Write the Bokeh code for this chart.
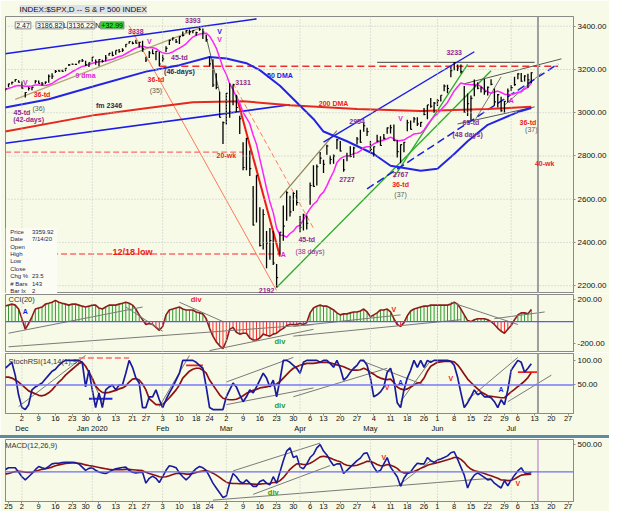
from bokeh.plotting import figure
from bokeh.models import (Range1d, FixedTicker, Label, Span, ColumnDataSource, BoxAnnotation,
                          Spacer, LinearAxis, NumeralTickFormatter)
from bokeh.layouts import column
from bokeh.embed import file_html
from bokeh.resources import INLINE

# ---------------------------------------------------------------- data
TRADING_DAYS = [
    (2019, 11, [22, 25, 26, 27, 29]),
    (2019, 12, [2, 3, 4, 5, 6, 9, 10, 11, 12, 13, 16, 17, 18, 19, 20, 23, 24, 26, 27, 30, 31]),
    (2020, 1, [2, 3, 6, 7, 8, 9, 10, 13, 14, 15, 16, 17, 21, 22, 23, 24, 27, 28, 29, 30, 31]),
    (2020, 2, [3, 4, 5, 6, 7, 10, 11, 12, 13, 14, 18, 19, 20, 21, 24, 25, 26, 27, 28]),
    (2020, 3, [2, 3, 4, 5, 6, 9, 10, 11, 12, 13, 16, 17, 18, 19, 20, 23, 24, 25, 26, 27, 30, 31]),
    (2020, 4, [1, 2, 3, 6, 7, 8, 9, 13, 14, 15, 16, 17, 20, 21, 22, 23, 24, 27, 28, 29, 30]),
    (2020, 5, [1, 4, 5, 6, 7, 8, 11, 12, 13, 14, 15, 18, 19, 20, 21, 22, 26, 27, 28, 29]),
    (2020, 6, [1, 2, 3, 4, 5, 8, 9, 10, 11, 12, 15, 16, 17, 18, 19, 22, 23, 24, 25, 26, 29, 30]),
    (2020, 7, [1, 2, 6, 7, 8, 9, 10]),
]
FUTURE_DAYS = [(2020, 7, [13, 14, 15, 16, 17, 20, 21, 22, 23, 24, 27, 28, 29, 30, 31])]

HIGH = [3112.87, 3133.83, 3142.69, 3154.26, 3150.30,
        3144.31, 3094.97, 3119.38, 3119.45, 3150.60, 3148.87, 3142.12, 3143.98, 3176.28, 3182.68, 3197.71,
        3198.22, 3198.48, 3205.48, 3225.65, 3227.78, 3226.43, 3240.08, 3247.93, 3240.92, 3231.72,
        3258.14, 3246.15, 3246.84, 3244.91, 3267.07, 3275.58, 3282.99, 3288.13, 3294.25, 3298.66, 3317.11,
        3329.88, 3329.79, 3337.77, 3326.88, 3333.18, 3258.85, 3285.78, 3293.47, 3285.91, 3282.33,
        3268.44, 3306.92, 3337.58, 3347.96, 3341.42, 3352.26, 3375.63, 3381.47, 3385.09, 3380.69, 3375.01,
        3393.52, 3389.15, 3360.76, 3259.81, 3246.99, 3182.51, 3097.07, 2959.72,
        3090.96, 3136.72, 3130.97, 3083.04, 2985.93, 2863.89, 2882.59, 2825.60, 2660.95, 2711.33, 2562.98,
        2553.93, 2453.57, 2466.97, 2453.01, 2300.73, 2449.71, 2571.42, 2637.01, 2615.91, 2631.80, 2641.39,
        2522.75, 2533.22, 2524.42, 2676.85, 2756.89, 2760.75, 2818.57, 2782.46, 2851.85, 2801.88, 2806.51,
        2879.22, 2868.98, 2785.54, 2815.10, 2844.90, 2842.71, 2887.72, 2921.40, 2954.86, 2930.91,
        2869.09, 2844.24, 2898.23, 2891.11, 2901.92, 2932.16, 2944.25, 2945.82, 2874.68, 2852.80, 2865.01,
        2968.09, 2964.21, 2980.29, 2978.50, 2956.76, 3021.72, 3036.25, 3068.67, 3049.17,
        3062.18, 3081.07, 3130.94, 3128.91, 3211.72, 3233.13, 3222.71, 3223.27, 3123.53, 3088.42, 3079.76,
        3153.45, 3141.16, 3120.92, 3155.53, 3120.92, 3154.90, 3112.35, 3086.25, 3073.73, 3053.89, 3111.51,
        3128.44, 3165.81, 3182.59, 3184.15, 3172.82, 3179.80, 3186.82]
LOW = [3099.26, 3117.44, 3131.00, 3143.41, 3139.34,
       3110.78, 3070.33, 3102.53, 3103.76, 3134.62, 3135.46, 3126.09, 3133.21, 3138.47, 3156.51, 3183.63,
       3191.03, 3191.14, 3192.32, 3216.03, 3222.31, 3220.51, 3227.16, 3234.37, 3216.57, 3212.03,
       3235.53, 3222.34, 3214.64, 3232.43, 3236.67, 3263.67, 3260.86, 3268.43, 3277.79, 3280.69, 3302.41,
       3318.86, 3316.61, 3320.04, 3301.87, 3281.53, 3234.50, 3253.22, 3271.89, 3242.80, 3214.68,
       3235.66, 3280.61, 3313.75, 3334.40, 3322.12, 3317.77, 3352.72, 3369.72, 3360.52, 3367.15, 3355.61,
       3378.83, 3341.02, 3328.45, 3214.65, 3118.77, 3108.99, 2977.39, 2855.84,
       2945.19, 2976.63, 3034.38, 2999.83, 2901.54, 2734.43, 2734.00, 2707.22, 2478.86, 2492.37, 2380.94,
       2367.04, 2280.52, 2319.78, 2295.56, 2191.86, 2344.44, 2407.53, 2500.72, 2520.02, 2545.28, 2571.15,
       2447.49, 2455.79, 2459.96, 2574.57, 2657.67, 2663.30, 2762.36, 2721.17, 2805.10, 2761.54, 2764.32,
       2830.88, 2820.43, 2727.10, 2775.95, 2794.26, 2791.76, 2852.89, 2860.71, 2912.16, 2892.47,
       2821.61, 2797.85, 2863.55, 2847.65, 2876.48, 2902.88, 2903.44, 2869.59, 2793.15, 2766.64, 2816.78,
       2913.86, 2922.40, 2953.63, 2938.57, 2933.59, 2988.17, 2969.75, 3023.40, 2998.61,
       3031.54, 3051.64, 3098.90, 3090.41, 3163.84, 3196.00, 3193.11, 3181.49, 2999.49, 2984.47, 2965.66,
       3076.06, 3108.03, 3093.51, 3083.11, 3079.40, 3127.12, 3032.13, 3024.01, 3004.63, 2999.70, 3047.83,
       3101.17, 3124.52, 3155.29, 3142.93, 3144.66, 3115.70, 3136.22]
CLOSE = [3110.29, 3133.64, 3140.52, 3153.63, 3140.98,
         3113.87, 3093.20, 3112.76, 3117.43, 3145.91, 3135.96, 3132.52, 3141.63, 3168.57, 3168.80, 3191.45,
         3192.52, 3191.14, 3205.37, 3221.22, 3224.01, 3223.38, 3239.91, 3240.02, 3221.29, 3230.78,
         3257.85, 3234.85, 3246.28, 3237.18, 3253.05, 3274.70, 3265.35, 3288.13, 3283.15, 3289.29, 3316.81,
         3329.62, 3320.79, 3321.75, 3325.54, 3295.47, 3243.63, 3276.24, 3273.40, 3283.66, 3225.52,
         3248.92, 3297.59, 3334.69, 3345.78, 3327.71, 3352.09, 3357.75, 3379.45, 3373.94, 3380.16, 3370.29,
         3386.15, 3373.23, 3337.75, 3225.89, 3128.21, 3116.39, 2978.76, 2954.22,
         3090.23, 3003.37, 3130.12, 3023.94, 2972.37, 2746.56, 2882.23, 2741.38, 2480.64, 2711.02, 2386.13,
         2529.19, 2398.10, 2409.39, 2304.92, 2237.40, 2447.33, 2475.56, 2630.07, 2541.47, 2626.65, 2584.59,
         2470.50, 2526.90, 2488.65, 2663.68, 2659.41, 2749.98, 2789.82, 2761.63, 2846.06, 2783.36, 2799.55,
         2874.56, 2823.16, 2736.56, 2799.31, 2797.80, 2836.74, 2878.48, 2863.39, 2939.51, 2912.43,
         2830.71, 2842.74, 2868.44, 2848.42, 2881.19, 2929.80, 2930.32, 2870.12, 2820.00, 2852.50, 2863.70,
         2953.91, 2922.94, 2971.61, 2948.51, 2955.45, 2991.77, 3036.13, 3029.73, 3044.31,
         3055.73, 3080.82, 3122.87, 3112.35, 3193.93, 3232.39, 3207.18, 3190.14, 3002.10, 3041.31, 3066.59,
         3124.74, 3113.49, 3115.34, 3097.74, 3117.86, 3131.29, 3050.33, 3083.76, 3009.05, 3053.24, 3100.29,
         3115.86, 3130.01, 3179.72, 3145.32, 3169.94, 3152.05, 3185.04]
MA9 = [3107.5, 3112.1, 3117.3, 3123.6, 3125.9,
       3125.0, 3122.0, 3122.5, 3124.0, 3128.0, 3128.3, 3127.4, 3126.0, 3129.1, 3135.2, 3146.1, 3155.0,
       3163.2, 3169.8, 3179.2, 3189.4, 3198.5, 3206.4, 3214.3, 3217.7, 3221.9,
       3229.3, 3232.6, 3235.4, 3236.8, 3240.1, 3244.0, 3246.8, 3254.2, 3260.1, 3263.6, 3272.7, 3281.9,
       3291.2, 3298.8, 3304.5, 3307.8, 3302.9, 3302.1, 3300.4, 3296.7, 3285.1,
       3277.1, 3274.4, 3275.5, 3281.0, 3290.4, 3298.8, 3308.2, 3318.8, 3335.3, 3349.9, 3358.0, 3363.7,
       3366.8, 3367.9, 3353.8, 3328.3, 3299.1, 3255.2, 3207.9,
       3176.8, 3134.2, 3107.2, 3072.3, 3044.2, 3001.8, 2975.8, 2949.4, 2896.8, 2854.6, 2786.0, 2719.3,
       2649.7, 2587.2, 2538.1, 2466.5, 2433.8, 2433.2, 2424.2, 2441.5, 2452.3, 2473.0,
       2479.8, 2504.5, 2532.4, 2556.5, 2576.9, 2590.2, 2617.8, 2632.8, 2661.8, 2696.6, 2726.9, 2769.8,
       2787.5, 2796.1, 2801.6, 2802.4, 2810.8, 2814.4, 2823.3, 2838.8, 2843.0,
       2843.9, 2855.7, 2863.4, 2869.0, 2873.9, 2879.6, 2887.1, 2879.4, 2869.1, 2871.5, 2873.8, 2883.3,
       2891.6, 2901.7, 2903.7, 2906.5, 2920.0, 2944.1, 2963.8, 2983.8,
       2995.1, 3012.7, 3029.5, 3047.7, 3074.2, 3100.9, 3119.9, 3137.7, 3133.1, 3131.5, 3129.9, 3130.1,
       3130.2, 3121.5, 3106.5, 3096.6, 3090.1, 3095.4, 3100.1, 3093.7, 3085.8, 3084.3,
       3084.4, 3088.0, 3094.8, 3096.4, 3109.7, 3117.3, 3136.83]
MA50_DATES = ["2019-11-22", "2019-12-12", "2020-01-03", "2020-01-27", "2020-02-10", "2020-02-24",
              "2020-03-02", "2020-03-10", "2020-03-16", "2020-03-24", "2020-04-07", "2020-04-13",
              "2020-04-22", "2020-05-04", "2020-05-11", "2020-05-22", "2020-06-01", "2020-06-08",
              "2020-06-12", "2020-06-22", "2020-07-06", "2020-07-10"]
MA50 = [3024, 3062, 3125, 3190, 3220, 3258, 3251, 3229, 3197, 3125, 2971, 2913,
        2868, 2809, 2755, 2732, 2741, 2809, 2868, 2944, 3003, 3022]
MA200_DATES = ["2019-11-22", "2020-01-03", "2020-01-27", "2020-02-14", "2020-03-09", "2020-03-27",
               "2020-04-27", "2020-05-22", "2020-06-22", "2020-07-10"]
MA200 = [2913, 2990, 3021, 3048, 3053, 3035, 3017, 3008, 3017, 3027.18]

CCI = [140, 147, 156, 147, 112,
       26, -69, -17, 43, 112, 121, 130, 156, 164, 173, 190, 173, 164, 156, 147, 156, 156, 147, 138, 130, 138,
       147, 147, 121, 112, 130, 147, 147, 147, 156, 164, 173, 164, 147, 112, 60, 17, -26, -17, -26, -52, -78,
       -43, 60, 104, 112, 121, 130, 112, 104, 104, 104, 86, 78, 69, 26, -60, -130, -181, -216, -242,
       -173, -69, -52, -95, -112, -104, -104, -147, -164, -164, -147, -112, -121, -130, -112, -104, -78, -60,
       -35, -26, -26, -26,
       -17, -26, -9, 78, 121, 138, 147, 138, 138, 121, 104, 78, 60, 69, 69, 78, 86, 86, 95, 112, 86,
       43, 60, 78, 104, 104, 112, 86, 26, -26, -43, -9, 52, 95, 112, 121, 130, 138, 138, 147, 147,
       147, 147, 147, 147, 156, 173, 156, 112, 60, 9, 0, 17, 26, 26, 26, 17, 0, -26, -60, -86, -104, -69,
       -35, 17, 60, 78, 78, 69, 108.79]
STOCH = [84, 90, 96, 70, 30,
         4, 0, 10, 40, 46, 50, 54, 62, 70, 78, 82, 90, 96, 100, 100, 100, 100, 100, 96, 46, 80,
         40, 4, 34, 4, 40, 46, 50, 40, 50, 50, 74, 100, 86, 64, 54, 4, 4, 26, 26, 40, 20,
         4, 20, 34, 46, 60, 74, 100, 100, 100, 100, 96, 90, 84, 46, 4, 0, 0, 0, 0,
         26, 40, 54, 46, 30, 16, 26, 40, 34, 46, 60, 74, 64, 46, 60, 26, 60, 100, 100, 96, 90, 84,
         74, 96, 100, 100, 100, 100, 96, 100, 100, 94, 86, 100, 84, 60, 66, 76, 84, 90, 100, 100, 90,
         64, 26, 30, 36, 46, 76, 84, 60, 14, 4, 40, 64, 80, 100, 86, 100, 86, 100, 96, 100,
         100, 100, 100, 100, 98, 90, 66, 34, 4, 14, 26, 40, 30, 34, 26, 26, 24, 16, 4, 20, 10, 40,
         80, 90, 100, 96, 76, 84, 92.99]
STOCH_MA = [66, 66, 64, 60, 56,
            50, 44, 38, 35, 32, 29, 28, 30, 34, 40, 48, 56, 62, 70, 76, 82, 88, 94, 96, 88, 76,
            64, 48, 40, 35, 34, 35, 37, 39, 42, 44, 48, 56, 62, 63, 60, 52, 40, 22, 16, 10, 10,
            10, 17, 24, 32, 40, 50, 64, 71, 78, 82, 84, 84, 80, 74, 60, 50, 40, 30, 23,
            21, 20, 20, 21, 24, 28, 33, 36, 39, 41, 44, 45, 46, 48, 50, 52, 57, 64, 71, 78, 84, 87,
            90, 92, 94, 94, 94, 95, 96, 96, 96, 95, 93, 91, 89, 87, 84, 81, 80, 80, 81, 84, 81,
            76, 72, 67, 64, 62, 61, 62, 55, 46, 42, 40, 42, 46, 50, 54, 55, 64, 78, 88, 92,
            96, 97, 98, 98, 98, 97, 91, 82, 72, 62, 55, 48, 42, 36, 32, 28, 27, 26, 25, 24, 24, 30,
            36, 41, 47, 52, 58, 65, 75.15]
MACD = [41, 76, 76, 76, 0,
        -88, -147, -88, -29, 41, 100, 76, 59, 100, 147, 159, 159, 170, 176, 176, 176, 170, 147, 88, 29, 65,
        76, 29, 0, -18, -29, 0, 35, 59, 70, 82, 88, 29, -6, -18, -12, -6, -206, -117, -76, -117, -194,
        -88, 29, 112, 100, 76, -18, -88, -147, -88, 0, 59, 100, 76, 29, -88, -206, -294, -382, -470,
        -441, -206, -29, -88, -176, -206, -147, -206, -264, -264, -176, -147, -206, -235, -88, -206, 0,
        206, 382, 441, 264, 294,
        88, 59, 147, 264, 323, 441, 499, 382, 311, 206, 117, 147, 147, -29, 29, 88, 147, 206, 253, 335, 352,
        206, 88, 0, 29, 147, 264, 88, 0, -88, -264, -117, -29, 0, 88, 159, 147, 147, 264, 206, 176,
        217, 235, 264, 294, 352, 370, 235, 88, -59, -294, -147, -59, -18, -59, -100, -147, -135, -206,
        -253, -294, -159, -253,
        -147, -59, 18, 76, -18, -29, -6.61]
MACD_SIG = [-41, -29, -12, 6, 12,
            6, -6, -12, -6, 12, 29, 47, 59, 70, 88, 112, 129, 141, 153, 159, 164, 164, 159, 147, 129, 117,
            106, 94, 82, 70, 59, 47, 41, 41, 41, 41, 47, 47, 41, 35, 29, 23, -6, -29, -47, -65, -88,
            -94, -88, -70, -47, -29, -23, -29, -41, -41, -29, -12, 6, 18, 23, 6, -23, -59, -100, -147,
            -188, -206, -211, -211, -217, -217, -217, -217, -223, -229, -223, -217, -211, -211, -194, -194,
            -159, -106, -29, 47, 100, 147,
            147, 135, 135, 159, 194, 235, 276, 288, 276, 253, 229, 206, 188, 147, 123, 112, 112, 123, 147,
            170, 194,
            194, 170, 135, 112, 112, 135, 123, 100, 65, 6, -18, -18, -12, 6, 35, 65, 88, 123, 141, 153,
            170, 188, 206, 223, 241, 264, 264, 229, 176, 100, 53, 23, 6, -12, -29, -53, -70, -94, -117,
            -147, -147, -159,
            -153, -129, -94, -59, -53, -47, -41]

DAY_TICKS = ["2019-12-02", "2019-12-09", "2019-12-16", "2019-12-23", "2019-12-30", "2020-01-06",
             "2020-01-13", "2020-01-21", "2020-01-27", "2020-02-03", "2020-02-10", "2020-02-18",
             "2020-02-24", "2020-03-02", "2020-03-09", "2020-03-16", "2020-03-23", "2020-03-30",
             "2020-04-06", "2020-04-13", "2020-04-20", "2020-04-27", "2020-05-04", "2020-05-11",
             "2020-05-18", "2020-05-26", "2020-06-01", "2020-06-08", "2020-06-15", "2020-06-22",
             "2020-06-29", "2020-07-06", "2020-07-13", "2020-07-20", "2020-07-27"]
MACD_DAY_TICKS = ["2019-11-25"] + DAY_TICKS
MONTH_TICKS = [("2019-12-02", "Dec"), ("2020-01-02", "Jan 2020"), ("2020-02-03", "Feb"),
               ("2020-03-02", "Mar"), ("2020-04-01", "Apr"), ("2020-05-01", "May"),
               ("2020-06-01", "Jun"), ("2020-07-01", "Jul")]
CURSOR_DATE = "2020-07-14"

# ---------------------------------------------------------------- helpers
dates = [f"{y}-{m:02d}-{d:02d}" for y, m, ds in TRADING_DAYS for d in ds]
future = [f"{y}-{m:02d}-{d:02d}" for y, m, ds in FUTURE_DAYS for d in ds]
POS = {d: k - 5 for k, d in enumerate(dates + future)}


def X(d):
    return POS[d]


xs = [X(d) for d in dates]
for name, arr in [("HIGH", HIGH), ("LOW", LOW), ("CLOSE", CLOSE), ("MA9", MA9), ("CCI", CCI),
                  ("STOCH", STOCH), ("STOCH_MA", STOCH_MA), ("MACD", MACD), ("MACD_SIG", MACD_SIG)]:
    assert len(arr) == len(xs), (name, len(arr), len(xs))

FONT = "Liberation Sans"
BG = "#F6FAE6"
PURPLE = "#8E2C8E"
RED_T = "#EE1C1C"
GRAY_T = "#5A5A5A"
NAVY_T = "#2A2A60"
MAG_T = "#E21CE2"
BLUE_T = "#1C1CE6"
GREEN_T = "#2E9B2E"
LINE_GRAY = "#7A7A7A"

XR = Range1d(-4.9, 164.6)
MONTH_STARTS = [d for d, _ in MONTH_TICKS]


def base_fig(frame_h, y0, y1, top=1, xaxis=False):
    f = figure(frame_width=568, frame_height=frame_h, x_range=XR, y_range=Range1d(y0, y1),
               output_backend="svg", toolbar_location=None, y_axis_location="right",
               x_axis_location=("below" if xaxis else None),
               min_border_left=5, min_border_right=36, min_border_top=top, min_border_bottom=0)
    f.background_fill_color = BG
    f.border_fill_color = BG
    f.outline_line_color = "#8A8A8A"
    f.grid.visible = False
    ay = f.yaxis[0]
    ay.major_label_text_font = FONT
    ay.major_label_text_font_size = "8px"
    ay.major_label_text_color = "#111111"
    ay.major_tick_out = 2
    ay.major_tick_in = 0
    ay.minor_tick_out = 0
    ay.minor_tick_in = 0
    ay.axis_line_color = "#8A8A8A"
    ay.major_tick_line_color = "#8A8A8A"
    ay.major_label_standoff = 2
    ay.formatter = NumeralTickFormatter(format="0.00")
    for d in MONTH_STARTS:
        f.add_layout(Span(location=X(d), dimension="height", line_color="#C4C4C4",
                          line_dash="1 2", line_width=1))
    return f


def seg(f, d1, v1, d2, v2, color, width=1.0, dash="solid"):
    f.line([X(d1), X(d2)], [v1, v2], line_color=color, line_width=width, line_dash=dash)


def note(f, text, d, v, color, size="7px", bold=True, align="center"):
    f.add_layout(Label(x=X(d), y=v, text=text, text_color=color, text_font=FONT,
                       text_font_size=size, text_font_style=("bold" if bold else "normal"),
                       text_align=align, text_baseline="middle"))


def vbox(f, v, text, bg, fg="white"):
    f.add_layout(Label(x=XR.end + 0.3, y=v, text=text, text_color=fg, background_fill_color=bg,
                       text_font=FONT, text_font_size="8px", text_align="left",
                       text_baseline="middle", padding=1))


def cursor(f, color="#9E9E9E", width=2):
    f.add_layout(Span(location=X(CURSOR_DATE), dimension="height", line_color=color,
                      line_width=width))


# ---------------------------------------------------------------- price panel
p = base_fig(277, 2164, 3445, top=13)
p.title.text = "INDEX:$SPX,D -- S & P 500 INDEX"
p.title.text_font = FONT
p.title.text_font_size = "8px"
p.title.text_font_style = "normal"
p.title.text_color = "#111111"
p.title.background_fill_color = "#DCE2E8"
p.title.offset = 14
p.title.standoff = 5
p.yaxis[0].ticker = FixedTicker(ticks=[2200, 2400, 2600, 2800, 3000, 3200, 3400])
for t in [2200, 2400, 2600, 2800, 3000, 3200, 3400]:
    p.add_layout(Span(location=t, dimension="width", line_color="#C4C4C4", line_dash="1 2"))
cursor(p)

# reference lines
seg(p, "2019-11-22", 2818, "2020-03-09", 2818, "#FF6A6A", 1.2, "6 3")
seg(p, "2019-12-13", 2346.58, "2020-03-24", 2346.58, "#FF6A6A", 1.5, "6 3")
seg(p, "2020-01-31", 3214.68, "2020-07-22", 3214.68, "#F03030", 1.5, "7 4")
seg(p, "2020-05-05", 3233.13, "2020-07-13", 3233.13, "#404040", 1)
seg(p, "2019-11-27", 3062, "2020-02-19", 3391, "#B4A47A", 1.2)
seg(p, "2020-01-17", 3403, "2020-03-23", 2178, "#FF7A5A", 1)
seg(p, "2020-03-04", 3136, "2020-04-07", 2466, "#FF7A5A", 1, "5 3")
seg(p, "2020-02-21", 3350, "2020-02-27", 3093, "#606060", 1)
seg(p, "2020-03-24", 2606, "2020-04-17", 2917, "#8B7D50", 1.2)
seg(p, "2020-03-23", 2192, "2020-06-23", 3194, "#2AAA2A", 1.3)
seg(p, "2020-05-12", 2701, "2020-06-12", 3224, "#2AAA2A", 1.3)
seg(p, "2020-06-11", 3134, "2020-07-23", 3249, "#555555", 1)
seg(p, "2020-06-09", 2948, "2020-07-13", 3027, "#555555", 1)
seg(p, "2020-06-16", 2960, "2020-06-26", 3166, "#777777", 1)
seg(p, "2020-06-29", 3035, "2020-07-15", 3183, "#777777", 1)
seg(p, "2019-11-22", 3273, "2020-03-13", 3434, "#1C1CE6", 1.6)
seg(p, "2019-11-22", 2859, "2020-03-27", 3037, "#1C1CE6", 1.6)
seg(p, "2020-04-13", 2864, "2020-06-16", 3282, "#1C1CE6", 1.4)
seg(p, "2020-04-30", 2648, "2020-07-22", 3226, "#1C1CE6", 1.5, "8 4")

# moving averages
p.line([X(d) for d in MA200_DATES], MA200, line_color="#E62820", line_width=2)
p.line([X(d) for d in MA50_DATES], MA50, line_color="#2424E6", line_width=2)
seg(p, "2020-03-05", 3079, "2020-03-24", 2335, "#F01A1A", 2)
p.line(xs, MA9, line_color="#FF22FF", line_width=1.5)

# bars
bars = ColumnDataSource(dict(x=xs, hi=HIGH, lo=LOW, cl=CLOSE, xt=[x + 0.45 for x in xs]))
p.segment("x", "lo", "x", "hi", source=bars, line_color="black", line_width=1.3)
p.segment("x", "cl", "xt", "cl", source=bars, line_color="black", line_width=1.1)

PRICE_NOTES = [
    ("3338", "2020-01-22", 3377, PURPLE, True), ("3393", "2020-02-14", 3427, PURPLE, True),
    ("V", "2020-02-27", 3377, BLUE_T, True), ("V", "2020-02-27", 3337, MAG_T, True),
    ("V", "2020-01-28", 3328, MAG_T, True), ("45-td", "2020-02-10", 3256, PURPLE, True),
    ("(46-days)", "2020-02-10", 3192, NAVY_T, True), ("9 dma", "2019-12-30", 3170, MAG_T, True),
    ("36-td", "2020-01-30", 3152, RED_T, True), ("(35)", "2020-01-30", 3102, GRAY_T, False),
    ("V", "2019-12-03", 3138, "#B03AB0", True), ("36-td", "2019-12-10", 3084, RED_T, True),
    ("(36)", "2019-12-09", 3021, GRAY_T, False), ("45-td", "2019-12-02", 2999, PURPLE, True),
    ("(42-days)", "2019-12-04", 2967, PURPLE, True), ("fm 2346", "2020-01-09", 3035, NAVY_T, True),
    ("3131", "2020-03-09", 3138, PURPLE, True), ("50 DMA", "2020-03-24", 3174, BLUE_T, True),
    ("3233", "2020-06-08", 3278, PURPLE, True), ("200 DMA", "2020-04-16", 3044, RED_T, True),
    ("V", "2020-05-14", 2971, MAG_T, True), ("2954", "2020-04-27", 2958, PURPLE, True),
    ("A", "2020-07-01", 3057, MAG_T, True), ("65-td", "2020-06-15", 2953, PURPLE, True),
    ("(48 days)", "2020-06-12", 2899, PURPLE, True), ("36-td", "2020-07-09", 2953, RED_T, True),
    ("(37)", "2020-07-10", 2922, GRAY_T, False), ("20-wk", "2020-03-02", 2800, RED_T, True),
    ("2192", "2020-03-18", 2176, PURPLE, True), ("A", "2020-03-25", 2344, MAG_T, True),
    ("45-td", "2020-04-03", 2412, PURPLE, True), ("(38 days)", "2020-04-06", 2358, PURPLE, False),
    ("2727", "2020-04-22", 2692, PURPLE, True), ("2767", "2020-05-14", 2714, PURPLE, True),
    ("36-td", "2020-05-14", 2669, RED_T, True), ("(37)", "2020-05-14", 2624, GRAY_T, False),
    ("40-wk", "2020-07-16", 2764, RED_T, True),
]
for text, d, v, col, b in PRICE_NOTES:
    note(p, text, d, v, col, bold=b)
note(p, "12/18 low", "2020-01-21", 2358, RED_T, size="9px")

# info box (cursor read-out)
p.add_layout(BoxAnnotation(left=-4.9, right=10.5, bottom=2164, top=2466, fill_color="#FBFCF4",
                           fill_alpha=1, line_color=None))
INFO = [("Price", "3359.92"), ("Date", "7/14/20"), ("Open", ""), ("High", ""), ("Low", ""),
        ("Close", ""), ("Chg %", "23.5"), ("# Bars", "143"), ("Bar Ix", "2")]
for k, (nm, vv) in enumerate(INFO):
    yv = 2448 - k * 34
    p.add_layout(Label(x=-3.5, y=yv, text=nm, text_font=FONT, text_font_size="6px",
                       text_color="#26264E", text_baseline="middle"))
    if vv:
        p.add_layout(Label(x=3.0, y=yv, text=vv, text_font=FONT, text_font_size="6px",
                           text_color="#26264E", text_baseline="middle"))

# quote strip
QUOTE = [("2.47", -2.0, "#FFFFFF", "#111111"), ("3186.82", 4.2, "#FFFFFF", "#111111"),
         ("L", 12.0, None, "#111111"), ("3136.22", 13.6, "#FFFFFF", "#111111"),
         ("N", 21.6, None, "#111111"), ("+32.99", 23.4, "#22DD22", "#111111")]
for text, xq, bgc, fg in QUOTE:
    kw = dict(background_fill_color=bgc, border_line_color="#8A8A8A") if bgc else {}
    p.add_layout(Label(x=xq, y=3404, text=text, text_font=FONT, text_font_size="7px",
                       text_color=fg, text_baseline="middle", padding=1, **kw))

vbox(p, 3185.04, "3185.04", "#000000")
vbox(p, 3136.83, "3136.83", "#FF1CFF")
vbox(p, 3027.18, "3027.18", "#F01E1E", "#1A1A1A")

# ---------------------------------------------------------------- CCI panel
c = base_fig(58, -276, 242)
c.yaxis[0].ticker = FixedTicker(ticks=[-200, 200])
cursor(c)
c.add_layout(Span(location=0, dimension="width", line_color="#5A5AF0", line_width=1.2))
cci_cols = [GREEN_T if v >= 0 else "#FF2A2A" for v in CCI]
c.segment(x0=xs, y0=[0] * len(xs), x1=xs, y1=CCI, line_color=cci_cols, line_width=1)
c.line(xs, CCI, line_color="#8E1C1C", line_width=1.6)
for a in [("2019-11-25", -104, "2020-01-24", 130), ("2020-01-16", 130, "2020-02-03", -86),
          ("2019-11-25", -225, "2020-04-07", -26), ("2020-02-24", -259, "2020-04-07", -69),
          ("2020-02-10", 173, "2020-02-28", 0), ("2020-03-30", -130, "2020-06-10", 17),
          ("2020-03-30", -43, "2020-05-14", 60), ("2020-06-05", 173, "2020-07-06", -26),
          ("2020-06-24", 26, "2020-07-16", 86)]:
    seg(c, a[0], a[1], a[2], a[3], LINE_GRAY, 1)
note(c, "CCI(20)", "2019-11-25", 199, "#333333", size="7.5px", bold=False, align="left")
note(c, "A", "2019-12-03", 86, BLUE_T)
note(c, "div", "2020-02-18", 199, RED_T, size="7.5px")
note(c, "div", "2020-03-24", -181, GREEN_T, size="7.5px")
note(c, "V", "2020-05-12", 104, RED_T)
vbox(c, 108.79, "108.79", "#8E1010")

# ---------------------------------------------------------------- StochRSI panel
s = base_fig(60, -8, 114, xaxis=True)
s.yaxis[0].ticker = FixedTicker(ticks=[50, 100])
cursor(s)
s.add_layout(Span(location=50, dimension="width", line_color="#7878F8", line_width=1.5))
for a in [("2019-11-29", 6, "2019-12-30", 110), ("2020-01-31", 6, "2020-02-13", 110),
          ("2020-03-02", 56, "2020-03-30", 106), ("2020-03-02", 10, "2020-04-07", 44),
          ("2020-03-30", 26, "2020-05-08", 84), ("2020-04-28", 100, "2020-05-26", 50),
          ("2020-05-14", 16, "2020-05-28", 100), ("2020-06-12", 20, "2020-07-06", 106),
          ("2020-06-30", 16, "2020-07-20", 70), ("2019-12-31", 74, "2020-01-07", 16)]:
    seg(s, a[0], a[1], a[2], a[3], LINE_GRAY, 1)
seg(s, "2019-12-26", 105, "2020-01-17", 105, "#FF6A6A", 1.5, "6 3")
seg(s, "2020-02-12", 90, "2020-02-20", 90, "#F02020", 1.8)
seg(s, "2020-07-06", 76, "2020-07-14", 76, "#F02020", 1.8)
seg(s, "2019-12-31", 22, "2020-01-10", 22, "#2020E0", 1.8)
s.line(xs, STOCH_MA, line_color="#8E1010", line_width=1.7)
s.line(xs, STOCH, line_color="#1A1A9C", line_width=1.7)
note(s, "StochRSI(14,14(1),9)", "2019-11-25", 98, "#333333", size="7.5px", bold=False, align="left")
note(s, "V", "2020-05-08", 44, RED_T)
note(s, "A", "2020-05-14", 56, BLUE_T)
note(s, "V", "2020-06-05", 64, RED_T)
note(s, "A", "2020-06-26", 40, BLUE_T)
note(s, "div", "2020-03-24", 8, GREEN_T, size="7.5px")
vbox(s, 92.99, "92.99", "#10107A")
vbox(s, 75.15, "75.15", "#8E1010")

ax = s.xaxis[0]
ax.ticker = FixedTicker(ticks=[X(d) for d in DAY_TICKS])
ax.major_label_overrides = {X(d): str(int(d[-2:])) for d in DAY_TICKS}
ax.major_label_text_font = FONT
ax.major_label_text_font_size = "7.5px"
ax.major_label_text_color = "#111111"
ax.major_tick_out = 2
ax.major_tick_in = 0
ax.minor_tick_out = 0
ax.minor_tick_in = 0
ax.major_label_standoff = 0
ax.axis_line_color = "#8A8A8A"
ax.major_tick_line_color = "#8A8A8A"
mx = LinearAxis(ticker=FixedTicker(ticks=[X(d) for d, _ in MONTH_TICKS]),
                major_label_overrides={X(d): t for d, t in MONTH_TICKS},
                major_label_text_font=FONT, major_label_text_font_size="7.5px",
                major_label_text_color="#111111", major_label_text_align="left",
                major_tick_out=0, major_tick_in=0, minor_tick_out=0, minor_tick_in=0,
                major_label_standoff=0, axis_line_color=None)
s.add_layout(mx, "below")

# ---------------------------------------------------------------- MACD panel
m = base_fig(62, -542, 594, xaxis=True)
m.yaxis[0].ticker = FixedTicker(ticks=[500])
cursor(m, "#B46EC8", 1)
m.add_layout(Span(location=0, dimension="width", line_color="#6E6EF0", line_width=1.2))
for a in [("2020-03-04", 18, "2020-04-09", 529), ("2020-03-12", -411, "2020-04-15", 117),
          ("2020-02-25", -517, "2020-06-23", -117), ("2020-05-13", -264, "2020-05-28", 206)]:
    seg(m, a[0], a[1], a[2], a[3], LINE_GRAY, 1)
m.line(xs, MACD_SIG, line_color="#8E1010", line_width=1.6)
m.line(xs, MACD, line_color="#1A1A9C", line_width=1.6)
note(m, "MACD(12,26,9)", "2019-11-22", 489, "#333333", size="7.5px", bold=False, align="left")
note(m, "V", "2020-05-07", 262, RED_T)
note(m, "V", "2020-07-06", -210, RED_T)
note(m, "div", "2020-03-20", -385, GREEN_T, size="7.5px")
vbox(m, -6.61, "-6.61", "#10107A")
bx = m.xaxis[0]
bx.ticker = FixedTicker(ticks=[X(d) for d in MACD_DAY_TICKS])
bx.major_label_overrides = {X(d): str(int(d[-2:])) for d in MACD_DAY_TICKS}
bx.major_label_text_font = FONT
bx.major_label_text_font_size = "7.5px"
bx.major_label_text_color = "#111111"
bx.major_tick_out = 2
bx.major_tick_in = 0
bx.minor_tick_out = 0
bx.minor_tick_in = 0
bx.major_label_standoff = 0
bx.axis_line_color = "#8A8A8A"
bx.major_tick_line_color = "#8A8A8A"

sep = Spacer(width=609, height=3, styles={"background-color": "#5E8C9C"})
layout = column(p, c, s, sep, m, spacing=0)

with open("out.html", "w") as fh:
    fh.write(file_html(layout, INLINE))
